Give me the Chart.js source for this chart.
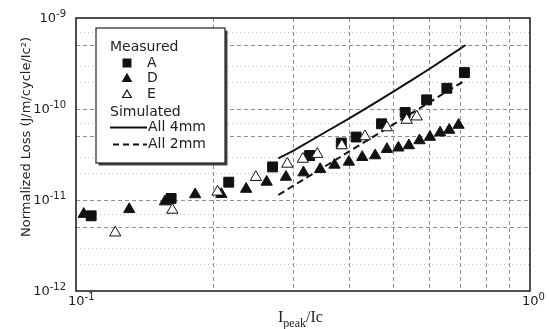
<!DOCTYPE html>
<html>
<head>
<meta charset="utf-8">
<script src="https://cdn.jsdelivr.net/npm/chart.js@4"></script>
<style>
html, body { margin: 0; padding: 0; background: #fff; }
</style>
</head>
<body>
<canvas id="lossChart" width="549" height="329"></canvas>
<script>
// I_peak/Ic and normalized loss
const aCurrent = [0.108, 0.162, 0.217, 0.271, 0.327, 0.384, 0.414, 0.471, 0.531, 0.592, 0.656, 0.717];
const aLoss = [6.7e-12, 1.04e-11, 1.57e-11, 2.31e-11, 3.08e-11, 4.23e-11, 4.92e-11, 6.88e-11, 9.15e-11, 1.26e-10, 1.69e-10, 2.51e-10];

const dCurrent = [0.104, 0.131, 0.157, 0.183, 0.209, 0.237, 0.263, 0.290, 0.317, 0.345, 0.371,
    0.399, 0.427, 0.456, 0.484, 0.513, 0.541, 0.571, 0.602, 0.634, 0.664, 0.696];
const dLoss = [7.0e-12, 7.9e-12, 9.6e-12, 1.15e-11, 1.16e-11, 1.32e-11, 1.58e-11, 1.79e-11, 2.0e-11, 2.18e-11, 2.43e-11,
    2.62e-11, 2.95e-11, 3.08e-11, 3.62e-11, 3.75e-11, 3.97e-11, 4.51e-11, 4.92e-11, 5.49e-11, 5.88e-11, 6.67e-11];

const eCurrent = [0.122, 0.163, 0.205, 0.249, 0.292, 0.316, 0.340, 0.385, 0.433, 0.484, 0.535, 0.563];
const eLoss = [4.37e-12, 7.77e-12, 1.23e-11, 1.78e-11, 2.49e-11, 2.82e-11, 3.19e-11, 3.97e-11, 4.99e-11, 6.26e-11, 7.57e-11, 8.23e-11];

// simulated curves
const simCurrent = [0.279, 0.3, 0.35, 0.4, 0.45, 0.5, 0.55, 0.6, 0.65, 0.722];
const sim4mmLoss = [2.87e-11, 3.45e-11, 5.38e-11, 7.90e-11, 1.123e-10, 1.549e-10, 2.088e-10, 2.75e-10, 3.57e-10, 5.05e-10];
const sim2mmLoss = [1.135e-11, 1.418e-11, 2.27e-11, 3.42e-11, 4.91e-11, 6.77e-11, 9.06e-11, 1.181e-10, 1.514e-10, 2.084e-10];

// axes
const xTicks = [0.1, 1];
const xTickExp = ['-1', '0'];
const yTicks = [1e-12, 1e-11, 1e-10, 1e-9];
const yTickExp = ['-12', '-11', '-10', '-9'];
const xGridLines = [0.2, 0.3, 0.4, 0.5, 0.6, 0.7, 0.8, 0.9];
const yDashLines = [5e-12, 1e-11, 5e-11, 1e-10, 5e-10];
const yDotLines = [2e-12, 3e-12, 7e-12, 2e-11, 3e-11, 7e-11, 2e-10, 3e-10, 7e-10];

const INK = '#111';
const zip = (xs, ys) => xs.map((x, i) => ({ x: x, y: ys[i] }));

// draws "10" with a raised exponent; anchor 'right' or 'left' at x
function powerLabel(ctx, x, y, exp, anchor) {
    ctx.font = '13px "DejaVu Sans"';
    const wb = ctx.measureText('10').width;
    ctx.font = '10px "DejaVu Sans"';
    const we = ctx.measureText(exp).width;
    const left = anchor === 'right' ? x - wb - we : x;
    ctx.font = '13px "DejaVu Sans"';
    ctx.fillText('10', left, y);
    ctx.font = '10px "DejaVu Sans"';
    ctx.fillText(exp, left + wb, y - 5);
}

const paperPlugin = {
    id: 'paper',
    beforeDatasetsDraw(chart) {
        const { ctx, chartArea: a, scales: { x, y } } = chart;
        ctx.save();
        ctx.lineWidth = 1;
        const hLine = v => {
            const py = Math.round(y.getPixelForValue(v)) + 0.5;
            ctx.beginPath(); ctx.moveTo(a.left, py); ctx.lineTo(a.right, py); ctx.stroke();
        };
        ctx.strokeStyle = '#c4c4c4';
        ctx.setLineDash([1, 3]);
        yDotLines.forEach(hLine);
        ctx.strokeStyle = '#8f8f8f';
        ctx.setLineDash([4, 3]);
        yDashLines.forEach(hLine);
        xGridLines.forEach(v => {
            const px = Math.round(x.getPixelForValue(v)) + 0.5;
            ctx.beginPath(); ctx.moveTo(px, a.top); ctx.lineTo(px, a.bottom); ctx.stroke();
        });
        ctx.restore();
    },
    afterDatasetsDraw(chart) {
        const { ctx, chartArea: a, scales: { x, y } } = chart;
        ctx.save();
        // frame
        ctx.strokeStyle = '#222';
        ctx.lineWidth = 1.6;
        ctx.strokeRect(a.left, a.top, a.right - a.left, a.bottom - a.top);

        // tick labels
        ctx.fillStyle = '#222';
        ctx.textBaseline = 'middle';
        ctx.textAlign = 'left';
        yTicks.forEach((v, i) => powerLabel(ctx, 66, y.getPixelForValue(v) + 1, yTickExp[i], 'right'));
        xTicks.forEach((v, i) => powerLabel(ctx, x.getPixelForValue(v) - 8, 302, xTickExp[i], 'left'));

        // legend box with shadow
        const bx = 96, by = 28, bw = 129, bh = 135;
        ctx.fillStyle = '#444';
        ctx.fillRect(bx + 2.5, by + 2.5, bw, bh);
        ctx.fillStyle = '#fff';
        ctx.fillRect(bx, by, bw, bh);
        ctx.lineWidth = 1.2;
        ctx.strokeStyle = '#222';
        ctx.strokeRect(bx, by, bw, bh);

        ctx.fillStyle = '#222';
        ctx.font = '14px "DejaVu Sans"';
        ctx.fillText('Measured', 110, 47);
        ctx.fillText('A', 147, 63);
        ctx.fillText('D', 147, 78);
        ctx.fillText('E', 147, 94);
        ctx.fillText('Simulated', 110, 112);
        ctx.fillText('All 4mm', 148, 127);
        ctx.fillText('All 2mm', 148, 144);

        const h = Chart.helpers;
        ctx.fillStyle = INK; ctx.strokeStyle = INK;
        h.drawPoint(ctx, { pointStyle: 'rect', radius: 5.5, rotation: 0, borderWidth: 1 }, 127, 63);
        h.drawPoint(ctx, { pointStyle: 'triangle', radius: 5, rotation: 0, borderWidth: 1 }, 127, 79);
        ctx.fillStyle = '#fff';
        h.drawPoint(ctx, { pointStyle: 'triangle', radius: 5, rotation: 0, borderWidth: 1 }, 127, 95);

        ctx.lineWidth = 2;
        ctx.beginPath(); ctx.moveTo(110, 127.5); ctx.lineTo(147, 127.5); ctx.stroke();
        ctx.setLineDash([6, 4]);
        ctx.beginPath(); ctx.moveTo(113, 144.5); ctx.lineTo(147, 144.5); ctx.stroke();
        ctx.setLineDash([]);

        // axis titles
        ctx.fillStyle = '#222';
        ctx.save();
        ctx.translate(27, 137);
        ctx.rotate(-Math.PI / 2);
        ctx.textAlign = 'center';
        ctx.font = '13px "DejaVu Sans"';
        ctx.fillText('Normalized Loss (J/m/cycle/Ic²)', 0, 0);
        ctx.restore();

        ctx.textBaseline = 'alphabetic';
        ctx.textAlign = 'left';
        let tx = 278;
        ctx.font = '16px "Liberation Serif"';
        ctx.fillText('I', tx, 322);
        tx += ctx.measureText('I').width;
        ctx.font = '12px "Liberation Serif"';
        ctx.fillText('peak', tx, 327);
        tx += ctx.measureText('peak').width;
        ctx.font = '16px "Liberation Serif"';
        ctx.fillText('/Ic', tx, 322);
        ctx.restore();
    }
};

new Chart(document.getElementById('lossChart'), {
    type: 'scatter',
    data: {
        datasets: [
            {
                label: 'E',
                data: zip(eCurrent, eLoss),
                pointStyle: 'triangle',
                pointRadius: 6.5,
                backgroundColor: '#fff',
                borderColor: INK,
                borderWidth: 1,
                order: 0
            },
            {
                label: 'D',
                data: zip(dCurrent, dLoss),
                pointStyle: 'triangle',
                pointRadius: 6.5,
                backgroundColor: INK,
                borderColor: INK,
                borderWidth: 1,
                order: 1
            },
            {
                label: 'A',
                data: zip(aCurrent, aLoss),
                pointStyle: 'rect',
                pointRadius: 7,
                backgroundColor: INK,
                borderColor: INK,
                borderWidth: 1,
                order: 2
            },
            {
                label: 'All 4mm',
                data: zip(simCurrent, sim4mmLoss),
                showLine: true,
                pointRadius: 0,
                borderColor: INK,
                borderWidth: 2,
                order: 3
            },
            {
                label: 'All 2mm',
                data: zip(simCurrent, sim2mmLoss),
                showLine: true,
                pointRadius: 0,
                borderColor: INK,
                borderWidth: 2,
                borderDash: [7, 4],
                order: 3
            }
        ]
    },
    options: {
        responsive: false,
        animation: false,
        layout: { padding: { top: 18, right: 19, left: 0, bottom: 0 } },
        plugins: { legend: { display: false }, tooltip: { enabled: false } },
        scales: {
            x: {
                type: 'logarithmic',
                min: 0.1,
                max: 1,
                grid: { display: false, drawTicks: false },
                border: { display: false },
                afterBuildTicks: s => { s.ticks = xTicks.map(v => ({ value: v })); },
                afterFit: s => { s.height = 38; },
                ticks: { display: false }
            },
            y: {
                type: 'logarithmic',
                min: 1e-12,
                max: 1e-9,
                grid: { display: false, drawTicks: false },
                border: { display: false },
                afterBuildTicks: s => { s.ticks = yTicks.map(v => ({ value: v })); },
                afterFit: s => { s.width = 76; },
                ticks: { display: false }
            }
        }
    },
    plugins: [paperPlugin]
});
</script>
</body>
</html>
